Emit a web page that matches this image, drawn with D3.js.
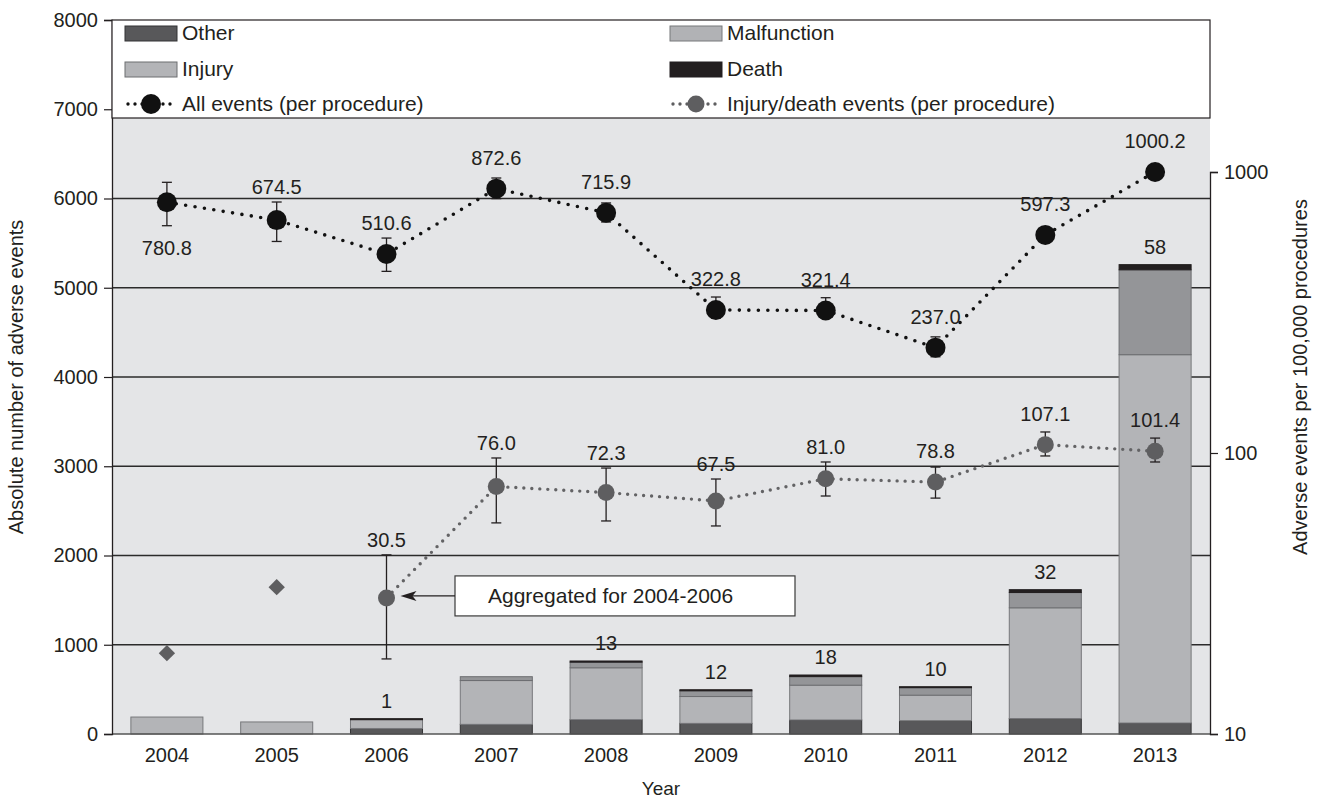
<!DOCTYPE html>
<html>
<head>
<meta charset="utf-8">
<script src="https://cdn.jsdelivr.net/npm/d3@7"></script>
<style>
body { margin: 0; background: #fff; }
svg text { font-family: "Liberation Sans", Arial, Helvetica, sans-serif; fill: #231f20; }
</style>
</head>
<body>
<svg id="chart" width="1333" height="802"></svg>
<script>
// categories
var years = ['2004', '2005', '2006', '2007', '2008', '2009', '2010', '2011', '2012', '2013'];

// absolute numbers of adverse events (stacked bars, left axis)
var other       = [0, 0, 62, 108, 160, 119, 157, 149, 173, 123];
var malfunction = [190, 135, 108, 491, 582, 301, 390, 286, 1241, 4127];
var injury      = [0, 0, 0, 43, 63, 64, 96, 85, 171, 951];
var death       = [0, 0, 1, 0, 13, 12, 18, 10, 32, 58];

// events per 100,000 procedures (right log axis)
var allRate = [780.8, 674.5, 510.6, 872.6, 715.9, 322.8, 321.4, 237.0, 597.3, 1000.2];
var allLow  = [644, 566, 443, 804, 664, 302, 302, 220, 570, 960];
var allHigh = [919, 782, 582, 952, 776, 359, 357, 259, 625, 1040];

var injRate = [null, null, 30.5, 76.0, 72.3, 67.5, 81.0, 78.8, 107.1, 101.4];
var injLow  = [null, null, 18.5, 56.4, 57.3, 55.0, 70.3, 69.1, 97.6, 92.9];
var injHigh = [null, null, 43.4, 96.0, 88.4, 80.8, 92.9, 89.1, 118.8, 113.0];

// single-year injury/death rates before aggregation (diamonds)
var injYearly = [19.4, 33.3, null, null, null, null, null, null, null, null];

var leftTicks = [0, 1000, 2000, 3000, 4000, 5000, 6000, 7000, 8000];
var rightTicks = [10, 100, 1000];

(function () {
    'use strict';

    var margin = { top: 20, right: 123, bottom: 68, left: 112 },
        width = 1333 - margin.left - margin.right,
        height = 802 - margin.top - margin.bottom,
        legendH = 98,
        fs = '20px',
        lfs = '21px';

    var keys = ['other', 'malfunction', 'injury', 'death'];
    var colors = { other: '#58585a', malfunction: '#b3b4b7', injury: '#949598', death: '#231f20' };
    var strokes = { other: '#333335', malfunction: '#77787b', injury: '#6d6e71', death: '#231f20' };
    var legendFill = { other: '#58585a', malfunction: '#b1b2b5', injury: '#b3b4b7', death: '#231f20' };

    var rows = years.map(function (y, i) {
        return { year: y, other: other[i], malfunction: malfunction[i], injury: injury[i], death: death[i] };
    });

    var svg = d3.select('#chart');
    var g = svg.append('g').attr('transform', 'translate(' + margin.left + ',' + margin.top + ')');

    var x = d3.scaleBand().domain(years).range([0, width]).paddingInner(0.344).paddingOuter(0.172);
    var yL = d3.scaleLinear().domain([0, 8000]).range([height, 0]);
    var yR = d3.scaleLog().domain([10, 1000]).range([height, 152]);
    var cx = function (i) { return x(years[i]) + x.bandwidth() / 2; };

    // plot background
    g.append('rect').attr('x', 0).attr('y', legendH).attr('width', width).attr('height', height - legendH)
        .attr('fill', '#e4e5e7');

    // gridlines
    g.append('g').selectAll('line').data(leftTicks.filter(function (d) { return d > 0 && yL(d) > legendH; }))
        .enter().append('line')
        .attr('x1', 0).attr('x2', width)
        .attr('y1', function (d) { return yL(d); }).attr('y2', function (d) { return yL(d); })
        .attr('stroke', '#2b2b2b').attr('stroke-width', 1.4);

    // stacked bars
    var series = d3.stack().keys(keys)(rows);
    g.append('g').selectAll('g').data(series).enter().append('g')
        .attr('fill', function (d) { return colors[d.key]; })
        .attr('stroke', function (d) { return strokes[d.key]; })
        .selectAll('rect').data(function (d) { return d; }).enter()
        .filter(function (d) { return d[1] - d[0] > 0; })
        .append('rect')
        .attr('x', function (d) { return x(d.data.year); })
        .attr('width', x.bandwidth())
        .attr('y', function (d) { return yL(d[1]); })
        .attr('height', function (d) { return Math.max(1, yL(d[0]) - yL(d[1])); })
        .attr('stroke-width', 1);

    // death counts above bars
    g.append('g').selectAll('text').data(rows.filter(function (d) { return d.death > 0; }))
        .enter().append('text')
        .attr('x', function (d) { return x(d.year) + x.bandwidth() / 2; })
        .attr('y', function (d) { return yL(d.other + d.malfunction + d.injury + d.death) - 11; })
        .attr('text-anchor', 'middle').style('font-size', fs)
        .text(function (d) { return d.death; });

    // x baseline
    g.append('line').attr('x1', 0).attr('x2', width).attr('y1', height).attr('y2', height)
        .attr('stroke', '#555').attr('stroke-width', 1.5);

    var leftAxis = g.append('g')
        .call(d3.axisLeft(yL).tickValues(leftTicks).tickFormat(d3.format('d')).tickSize(8).tickPadding(6));
    var rightAxis = g.append('g').attr('transform', 'translate(' + width + ',0)')
        .call(d3.axisRight(yR).tickValues(rightTicks).tickFormat(d3.format('d')).tickSize(8).tickPadding(6));
    var bottomAxis = g.append('g').attr('transform', 'translate(0,' + height + ')')
        .call(d3.axisBottom(x).tickSize(0).tickPadding(14));
    bottomAxis.select('.domain').remove();
    [leftAxis, rightAxis].forEach(function (a) {
        a.select('.domain').attr('stroke', '#231f20').attr('stroke-width', 1.3);
        a.selectAll('.tick line').attr('stroke', '#231f20').attr('stroke-width', 1.2);
    });
    [leftAxis, rightAxis, bottomAxis].forEach(function (a) {
        a.selectAll('.tick text').style('font-size', fs).attr('fill', '#231f20');
    });

    // dotted lines
    function dotted(vals, color, w, dash) {
        var pts = vals.map(function (v, i) { return v == null ? null : [cx(i), yR(v)]; })
            .filter(function (p) { return p; });
        g.append('path').attr('d', d3.line()(pts)).attr('fill', 'none')
            .attr('stroke', color).attr('stroke-width', w)
            .attr('stroke-linecap', 'round').attr('stroke-dasharray', dash);
    }
    dotted(allRate, '#111', 3.6, '0,9.5');
    dotted(injRate, '#636365', 3.4, '0,8');

    // error bars
    function errors(vals, lo, hi) {
        var eg = g.append('g').attr('stroke', '#231f20').attr('stroke-width', 1.3);
        vals.forEach(function (v, i) {
            if (v == null) return;
            var xx = cx(i);
            eg.append('line').attr('x1', xx).attr('x2', xx).attr('y1', yR(lo[i])).attr('y2', yR(hi[i]));
            [lo[i], hi[i]].forEach(function (e) {
                eg.append('line').attr('x1', xx - 5).attr('x2', xx + 5).attr('y1', yR(e)).attr('y2', yR(e));
            });
        });
    }
    errors(allRate, allLow, allHigh);
    errors(injRate, injLow, injHigh);

    // markers
    g.append('g').selectAll('circle').data(allRate).enter().append('circle')
        .attr('cx', function (d, i) { return cx(i); }).attr('cy', function (d) { return yR(d); })
        .attr('r', 10).attr('fill', '#111');
    g.append('g').selectAll('circle').data(injRate.map(function (v, i) { return { v: v, i: i }; })
            .filter(function (d) { return d.v != null; }))
        .enter().append('circle')
        .attr('cx', function (d) { return cx(d.i); }).attr('cy', function (d) { return yR(d.v); })
        .attr('r', 8.5).attr('fill', '#5e5e60');
    g.append('g').selectAll('path').data(injYearly.map(function (v, i) { return { v: v, i: i }; })
            .filter(function (d) { return d.v != null; }))
        .enter().append('path')
        .attr('d', d3.symbol(d3.symbolDiamond2, 170))
        .attr('transform', function (d) { return 'translate(' + cx(d.i) + ',' + yR(d.v) + ')'; })
        .attr('fill', '#5e5e60');

    // value labels
    function labels(vals, lo, hi, below) {
        g.append('g').selectAll('text').data(vals.map(function (v, i) { return { v: v, i: i }; })
                .filter(function (d) { return d.v != null; }))
            .enter().append('text')
            .attr('x', function (d) { return cx(d.i); })
            .attr('y', function (d) {
                if (below(d.i)) return yR(lo[d.i]) + 22;
                return Math.min(yR(hi[d.i]), yR(d.v) - 16) - 15;
            })
            .attr('dy', '0.35em').attr('text-anchor', 'middle').style('font-size', fs)
            .text(function (d) { return d.v.toFixed(1); });
    }
    labels(allRate, allLow, allHigh, function (i) { return i === 0; });
    labels(injRate, injLow, injHigh, function () { return false; });

    // annotation
    var ay = yR(injRate[2]);
    var ann = g.append('g');
    ann.append('rect').attr('x', 343).attr('y', ay - 22).attr('width', 340).attr('height', 40)
        .attr('fill', '#fff').attr('stroke', '#3a3a3a').attr('stroke-width', 1.2);
    ann.append('text').attr('x', 376).attr('y', ay - 2).attr('dy', '0.35em').style('font-size', lfs)
        .text('Aggregated for 2004-2006');
    ann.append('line').attr('x1', 343).attr('x2', cx(2) + 22).attr('y1', ay - 2).attr('y2', ay - 2)
        .attr('stroke', '#231f20').attr('stroke-width', 1.3);
    ann.append('path').attr('d', d3.line()([[cx(2) + 14, ay - 2], [cx(2) + 30, ay - 7], [cx(2) + 26, ay - 2], [cx(2) + 30, ay + 3]]) + 'Z')
        .attr('fill', '#231f20');

    // legend
    var lg = g.append('g');
    lg.append('rect').attr('x', 0).attr('y', 0).attr('width', width).attr('height', legendH)
        .attr('fill', '#fff').attr('stroke', '#231f20').attr('stroke-width', 1.2);
    var items = [
        { key: 'other', label: 'Other', col: 0, row: 0 },
        { key: 'malfunction', label: 'Malfunction', col: 1, row: 0 },
        { key: 'injury', label: 'Injury', col: 0, row: 1 },
        { key: 'death', label: 'Death', col: 1, row: 1 }
    ];
    var colX = [13, 558], rowY = [13, 49, 84];
    items.forEach(function (it) {
        var lx = colX[it.col], ly = rowY[it.row];
        lg.append('rect').attr('x', lx).attr('y', ly - 7).attr('width', 52).attr('height', 15)
            .attr('fill', legendFill[it.key]).attr('stroke', strokes[it.key]).attr('stroke-width', 1);
        lg.append('text').attr('x', lx + 57).attr('y', ly).attr('dy', '0.35em').style('font-size', lfs).text(it.label);
    });
    var lineItems = [
        { label: 'All events (per procedure)', color: '#111', r: 10, col: 0 },
        { label: 'Injury/death events (per procedure)', color: '#5e5e60', r: 8.5, col: 1 }
    ];
    lineItems.forEach(function (it) {
        var lx = colX[it.col], ly = rowY[2];
        lg.append('line').attr('x1', lx + 3).attr('x2', lx + 52).attr('y1', ly).attr('y2', ly)
            .attr('stroke', it.color).attr('stroke-width', 3.4).attr('stroke-linecap', 'round')
            .attr('stroke-dasharray', '0,7');
        lg.append('circle').attr('cx', lx + 26).attr('cy', ly).attr('r', it.r).attr('fill', it.color);
        lg.append('text').attr('x', lx + 57).attr('y', ly).attr('dy', '0.35em').style('font-size', lfs).text(it.label);
    });

    // axis titles
    svg.append('text').attr('transform', 'translate(23,' + (margin.top + height / 2) + ') rotate(-90)')
        .attr('text-anchor', 'middle').style('font-size', '20px').text('Absolute number of adverse events');
    svg.append('text').attr('transform', 'translate(1307,' + (margin.top + height / 2) + ') rotate(-90)')
        .attr('text-anchor', 'middle').style('font-size', '20px').text('Adverse events per 100,000 procedures');
    svg.append('text').attr('x', margin.left + width / 2).attr('y', 795)
        .attr('text-anchor', 'middle').style('font-size', '19px').text('Year');
})();
</script>
</body>
</html>
